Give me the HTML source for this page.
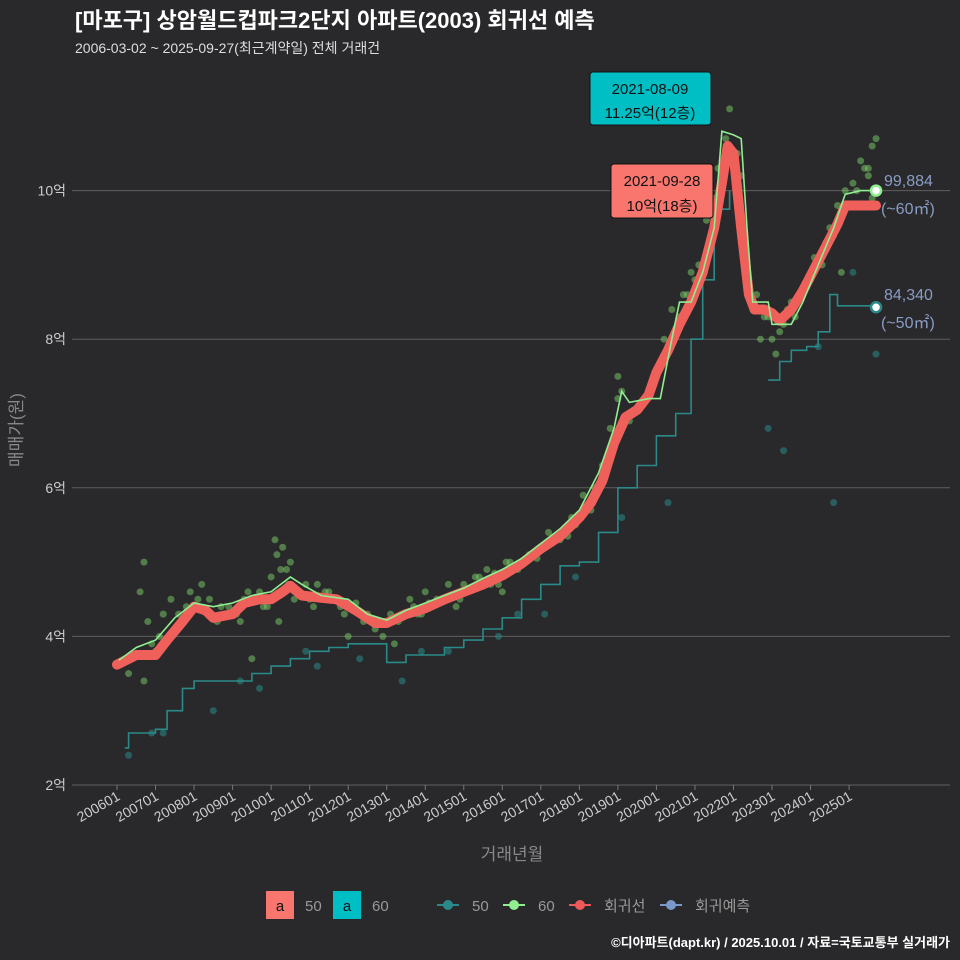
<!DOCTYPE html>
<html><head><meta charset="utf-8"><style>
body{margin:0;background:#29292b;}
svg{display:block;font-family:"Liberation Sans","Noto Sans CJK KR",sans-serif;}
</style></head><body>
<svg id="c" width="960" height="960" viewBox="0 0 960 960">
<rect width="960" height="960" fill="#29292b"/>
<text x="75" y="28" fill="#fff" font-size="22" font-weight="bold">[마포구] 상암월드컵파크2단지 아파트(2003) 회귀선 예측</text>
<text x="75" y="53" fill="#ddd" font-size="14">2006-03-02 ~ 2025-09-27(최근계약일) 전체 거래건</text>
<g id="grid"></g><g id="pts"></g><g id="lines"></g><g id="axes"></g>
<text transform="translate(22,430) rotate(-90)" text-anchor="middle" fill="#888" font-size="17">매매가(원)</text>
<text x="512" y="860" text-anchor="middle" fill="#888" font-size="17">거래년월</text>
<g>
<rect x="590" y="72" width="121" height="53" rx="3" fill="#00bfc4" stroke="#111"/>
<text x="650" y="94" text-anchor="middle" font-size="15" fill="#111">2021-08-09</text>
<text x="650" y="118" text-anchor="middle" font-size="15" fill="#111">11.25억(12층)</text></g>
<g>
<rect x="611" y="164" width="102" height="54" rx="3" fill="#f8766d" stroke="#111"/>
<text x="662" y="186" text-anchor="middle" font-size="15" fill="#111">2021-09-28</text>
<text x="662" y="211" text-anchor="middle" font-size="15" fill="#111">10억(18층)</text></g>
<g fill="#8a9cc4" font-size="16">
<text x="884" y="186">99,884</text><text x="881" y="214">(~60㎡)</text>
<text x="884" y="300">84,340</text><text x="881" y="328">(~50㎡)</text></g>
<g font-size="15" fill="#999">
<rect x="266" y="891" width="28" height="28" fill="#f8766d"/><text x="280" y="911" text-anchor="middle" fill="#111">a</text><text x="305" y="911">50</text>
<rect x="333" y="891" width="28" height="28" fill="#00bfc4"/><text x="347" y="911" text-anchor="middle" fill="#111">a</text><text x="372" y="911">60</text>
<line x1="437" y1="905" x2="459" y2="905" stroke="#2a8a8a" stroke-width="2"/><circle cx="448" cy="905" r="5" fill="#2a8a8a"/><text x="472" y="911">50</text>
<line x1="503" y1="905" x2="525" y2="905" stroke="#90ee90" stroke-width="2"/><circle cx="514" cy="905" r="5" fill="#90ee90"/><text x="538" y="911">60</text>
<line x1="569" y1="905" x2="591" y2="905" stroke="#ee5a5a" stroke-width="2"/><circle cx="580" cy="905" r="5" fill="#ee5a5a"/><text x="604" y="911">회귀선</text>
<line x1="660" y1="905" x2="682" y2="905" stroke="#7a98c8" stroke-width="2"/><circle cx="671" cy="905" r="5" fill="#7a98c8"/><text x="695" y="911">회귀예측</text></g>
<text x="950" y="947" text-anchor="end" fill="#fff" font-size="13" font-weight="bold">©디아파트(dapt.kr) / 2025.10.01 / 자료=국토교통부 실거래가</text>
</svg>
<script>
const yTicks=[2,4,6,8,10];
const xYears=[2006,2007,2008,2009,2010,2011,2012,2013,2014,2015,2016,2017,2018,2019,2020,2021,2022,2023,2024,2025];
const regT=[2006,2006.5,2007,2007.3,2007.7,2008,2008.3,2008.5,2009,2009.3,2009.7,2010,2010.3,2010.5,2010.8,2011.3,2011.7,2012.2,2012.7,2013,2013.5,2014,2014.5,2015,2015.5,2016,2016.5,2017,2017.5,2018,2018.3,2018.6,2018.9,2019.2,2019.5,2019.8,2020,2020.3,2020.6,2020.9,2021.2,2021.5,2021.7,2021.85,2022,2022.2,2022.4,2022.55,2022.8,2023,2023.2,2023.5,2023.8,2024.1,2024.4,2024.7,2024.9,2025.3,2025.7];
const regV=[3.62,3.75,3.75,3.95,4.2,4.4,4.35,4.25,4.3,4.45,4.5,4.5,4.6,4.68,4.55,4.52,4.5,4.35,4.18,4.18,4.3,4.38,4.5,4.6,4.7,4.82,4.98,5.18,5.35,5.6,5.8,6.1,6.6,6.95,7.05,7.25,7.55,7.85,8.2,8.5,8.9,9.5,10.1,10.6,10.5,9.5,8.6,8.4,8.4,8.35,8.25,8.4,8.65,8.95,9.25,9.55,9.8,9.8,9.8];
const g60T=[2006.05,2006.5,2007,2007.5,2008,2008.5,2009,2009.5,2010,2010.5,2010.8,2011.3,2012,2012.5,2013,2013.5,2014,2014.5,2015,2015.5,2016,2016.5,2017,2017.5,2018,2018.5,2018.9,2019.1,2019.3,2019.8,2020.1,2020.4,2020.6,2020.9,2021.2,2021.5,2021.7,2022,2022.2,2022.35,2022.5,2022.9,2023,2023.5,2023.8,2024.2,2024.6,2024.9,2025.3,2025.7];
const g60V=[3.68,3.85,3.95,4.25,4.45,4.4,4.45,4.55,4.6,4.8,4.7,4.55,4.5,4.3,4.22,4.35,4.45,4.55,4.65,4.78,4.9,5.05,5.25,5.45,5.7,6.2,6.8,7.3,7.15,7.2,7.2,8.0,8.5,8.5,8.9,9.5,10.8,10.75,10.7,9.5,8.5,8.5,8.2,8.2,8.5,9.0,9.5,9.95,10.0,10.0];
const g50T=[2006.2,2006.3,2007,2007.3,2007.7,2008,2009,2009.5,2010,2010.5,2011,2011.5,2012,2012.5,2013,2013.5,2014,2014.5,2015,2015.5,2016,2016.5,2017,2017.5,2018,2018.5,2019,2019.5,2020,2020.5,2020.9,2021.2,2021.5,2021.9,null,2022.9,2023.2,2023.5,2023.9,2024.2,2024.5,2024.7,2025.7];
const g50V=[2.5,2.7,2.75,3.0,3.3,3.4,3.4,3.5,3.6,3.7,3.8,3.85,3.9,3.9,3.65,3.75,3.75,3.85,3.95,4.1,4.25,4.5,4.7,4.95,5.0,5.4,6.0,6.3,6.7,7.0,8.0,8.8,9.75,10.0,null,7.45,7.7,7.85,7.9,8.1,8.6,8.45,8.43];
const s60T=[2006.3,2006.6,2006.7,2006.8,2007.1,2007.4,2007.6,2007.9,2008.2,2008.4,2008.7,2009.0,2009.2,2009.4,2009.6,2009.8,2010.0,2010.1,2010.3,2010.4,2010.6,2010.9,2011.1,2011.4,2011.6,2011.9,2012.1,2012.4,2012.7,2012.9,2013.1,2013.3,2013.6,2013.8,2014.0,2014.3,2014.6,2014.8,2015.1,2015.3,2015.6,2015.9,2016.1,2016.4,2016.7,2017.0,2017.2,2017.5,2017.8,2018.1,2018.3,2018.6,2018.8,2019.0,2019.1,2019.3,2019.6,2019.9,2020.2,2020.4,2020.7,2020.9,2021.1,2021.3,2021.5,2021.6,2021.9,2022.2,2022.5,2022.7,2022.9,2023.1,2023.3,2023.5,2023.7,2023.9,2024.1,2024.3,2024.5,2024.7,2024.9,2025.1,2025.3,2025.5,2025.6,2025.7,2006.7,2007.0,2009.5,2010.2,2010.5,2012.0,2013.2,2016.0,2018.5,2019.0,2021.8,2023.0,2024.8,2025.4,
2006.9,2007.2,2007.5,2007.8,2008.1,2008.6,2008.9,2009.1,2009.3,2009.7,2009.9,2010.15,2010.25,2010.45,2010.7,2011.0,2011.2,2011.5,2011.8,2012.2,2012.5,2012.8,2013.0,2013.4,2013.7,2013.9,2014.1,2014.4,2014.7,2014.9,2015.0,2015.2,2015.4,2015.7,2015.8,2016.2,2016.3,2016.6,2016.8,2016.9,2017.1,2017.3,2017.6,2017.7,2017.9,2018.0,2018.2,2018.4,2018.7,2018.9,2019.2,2019.4,2019.7,2020.0,2020.3,2020.5,2020.6,2020.8,2021.0,2021.2,2021.4,2022.1,2022.6,2022.8,2023.2,2023.4,2023.6,2023.8,2024.0,2024.2,2024.4,2024.6,2025.0,2025.2,2025.5,2025.6];
const s60V=[3.5,4.6,5.0,4.2,4.0,4.5,4.3,4.6,4.7,4.5,4.4,4.3,4.2,4.6,4.5,4.4,4.8,5.3,5.2,4.9,4.5,4.7,4.4,4.6,4.5,4.3,4.4,4.2,4.1,4.0,4.3,4.2,4.5,4.3,4.6,4.5,4.7,4.4,4.6,4.8,4.9,4.7,5.0,4.9,5.1,5.2,5.4,5.3,5.6,5.9,5.7,6.3,6.8,7.5,7.3,6.9,7.1,7.4,8.0,8.4,8.6,8.9,9.0,9.6,9.9,10.3,11.1,10.2,8.4,8.0,8.3,7.8,8.2,8.5,8.6,8.7,9.1,9.0,9.5,9.8,10.0,10.1,10.4,10.2,10.6,10.7,3.4,3.8,3.7,4.2,5.0,4.0,3.9,4.6,6.0,7.2,10.7,8.0,8.9,10.3,
3.9,4.3,4.1,4.4,4.5,4.2,4.4,4.3,4.5,4.6,4.4,5.1,4.9,4.7,4.6,4.5,4.7,4.6,4.4,4.45,4.3,4.2,4.2,4.25,4.4,4.3,4.45,4.5,4.55,4.5,4.7,4.65,4.8,4.7,4.85,5.0,4.9,5.0,5.1,5.05,5.2,5.3,5.4,5.35,5.5,5.6,5.75,6.0,6.2,6.6,6.9,7.0,7.2,7.5,7.9,8.1,8.3,8.6,8.8,9.0,9.3,10.5,8.6,8.3,8.1,8.4,8.3,8.6,8.8,9.0,9.3,9.4,9.8,10.0,10.3,9.9];
const s50T=[2006.3,2007.2,2008.5,2009.7,2011.2,2012.3,2013.4,2014.6,2015.9,2017.1,2017.9,2019.1,2020.3,2021.0,2022.9,2023.3,2024.2,2024.6,2025.1,2025.7,2006.9,2009.2,2010.9,2013.9,2016.4];
const s50V=[2.4,2.7,3.0,3.3,3.6,3.7,3.4,3.8,4.0,4.3,4.8,5.6,5.8,8.6,6.8,6.5,7.9,5.8,8.9,7.8,2.7,3.4,3.8,3.8,4.3];
const X=t=>117+(t-2006)*38.53, Y=v=>785-(v-2)*74.3;
const NS="http://www.w3.org/2000/svg";
function mk(p,tag,a){const e=document.createElementNS(NS,tag);for(const k in a)e.setAttribute(k,a[k]);p.appendChild(e);return e;}
const grid=document.getElementById('grid'),axes=document.getElementById('axes'),pts=document.getElementById('pts'),lines=document.getElementById('lines');
yTicks.forEach(v=>{const l=mk(grid,'line',{x1:72,x2:950,y1:Y(v),y2:Y(v),stroke:'#5f5f5f','stroke-width':1});


const t=mk(axes,'text',{x:66,y:Y(v)+5,'text-anchor':'end',fill:'#ccc','font-size':14});t.textContent=v+'억';

});
xYears.forEach(yr=>{const x=X(yr);mk(axes,'line',{x1:x,x2:x,y1:785,y2:790,stroke:'#777'});
const t=mk(axes,'text',{transform:`translate(${x+4},${799}) rotate(-30)`,'text-anchor':'end',fill:'#ccc','font-size':14});t.textContent=yr+'01';

});
s60T.forEach((t,i)=>{const c=mk(pts,'circle',{cx:X(t),cy:Y(s60V[i]),r:3.5,fill:'#7ccf6a','fill-opacity':0.5});

});
s50T.forEach((t,i)=>{const c=mk(pts,'circle',{cx:X(t),cy:Y(s50V[i]),r:3.5,fill:'#2a8a8a','fill-opacity':0.55});

});
function path(T,V){let d='',m=true;T.forEach((t,i)=>{if(t===null){m=true;return;}d+=(m?'M':'L')+X(t).toFixed(1)+','+Y(V[i]).toFixed(1);m=false;});return d;}
function stepPath(T,V){let d='',m=true;T.forEach((t,i)=>{if(t===null){m=true;return;}const x=X(t).toFixed(1),y=Y(V[i]).toFixed(1);d+=m?'M'+x+','+y:'H'+x+'V'+y;m=false;});return d;}
let p=mk(lines,'path',{d:stepPath(g50T,g50V),fill:'none',stroke:'#2a8a8a','stroke-width':1.6});


p=mk(lines,'path',{d:path(regT,regV),fill:'none',stroke:'#f0605a','stroke-width':10,'stroke-linecap':'round','stroke-linejoin':'round'});


p=mk(lines,'path',{d:path(g60T,g60V),fill:'none',stroke:'#90ee90','stroke-width':1.6});


let e=mk(lines,'circle',{cx:X(2025.7),cy:Y(10.0),r:5,fill:'#fff',stroke:'#90ee90','stroke-width':2.5});


e=mk(lines,'circle',{cx:X(2025.7),cy:Y(8.43),r:5,fill:'#fff',stroke:'#2a8a8a','stroke-width':2.5});


</script>
</body></html>
